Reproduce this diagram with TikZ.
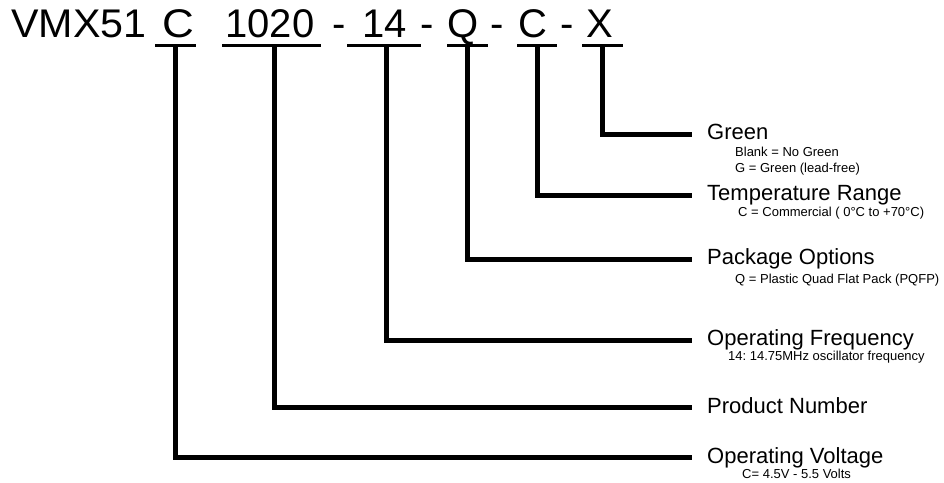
\documentclass[tikz,border=0pt]{standalone}
\usepackage{fontspec}
\setmainfont{Liberation Sans}
\frenchspacing
\begin{document}
\begin{tikzpicture}[x=1pt,y=-1pt,
  ttl/.style={inner sep=0pt,anchor=base,font=\fontsize{40}{40}\selectfont},
  lbl/.style={inner sep=0pt,anchor=base west,font=\fontsize{22}{22}\selectfont},
  sub/.style={inner sep=0pt,anchor=base west,font=\fontsize{13}{13}\selectfont},
  uline/.style={line width=3pt,line cap=butt},
  lead/.style={line width=5pt,line cap=butt,line join=miter}]
\useasboundingbox[fill=white] (0,0) rectangle (944,482);
% title pieces
\node[ttl] (t0) at (79,37) {\scalebox{1.03}[1]{VMX51}};
\node[ttl] (t1) at (178,37) {\scalebox{1.1}[1]{C}};
\node[ttl] (t2) at (270,37) {1020};
\node[ttl] (t3) at (339,37) {-};
\node[ttl] (t4) at (385,37) {14};
\node[ttl] (t5) at (427,37) {-};
\node[ttl] (t6) at (463,37) {Q};
\node[ttl] (t7) at (497,37) {-};
\node[ttl] (t8) at (533,37) {C};
\node[ttl] (t9) at (567,37) {-};
\node[ttl] (t10) at (600,37) {X};
% underlines
\draw[uline] (155,45) -- (196,45);
\draw[uline] (222,45) -- (321,45);
\draw[uline] (347,45) -- (421,45);
\draw[uline] (447,45) -- (488,45);
\draw[uline] (517,45) -- (557,45);
\draw[uline] (582,45) -- (623,45);
% start points
\coordinate (uV) at (175,46);
\coordinate (uP) at (274,46);
\coordinate (uF) at (386,46);
\coordinate (uQ) at (467,46);
\coordinate (uT) at (537,46);
\coordinate (uG) at (602,46);
% end points
\coordinate (eG) at (692,134);
\coordinate (eT) at (692,195);
\coordinate (eQ) at (692,259);
\coordinate (eF) at (692,340);
\coordinate (eP) at (692,407);
\coordinate (eV) at (692,457);
\draw[lead] (uG) |- (eG);
\draw[lead] (uT) |- (eT);
\draw[lead] (uQ) |- (eQ);
\draw[lead] (uF) |- (eF);
\draw[lead] (uP) |- (eP);
\draw[lead] (uV) |- (eV);
% labels
\node[lbl] (lG) at (707,139) {Green};
\node[sub] (sG1) at (735,156) {Blank = No Green};
\node[sub] (sG2) at (735,172) {G = Green (lead-free)};
\node[lbl] (lT) at (707,200) {Temperature Range};
\node[sub] (sT) at (738,216) {C = Commercial ( 0°C to +70°C)};
\node[lbl] (lQ) at (707,264) {Package Options};
\node[sub] (sQ) at (735,283) {Q = Plastic Quad Flat Pack (PQFP)};
\node[lbl] (lF) at (707,345) {Operating Frequency};
\node[sub] (sF) at (728,360) {14: 14.75MHz oscillator frequency};
\node[lbl] (lP) at (707,413) {Product Number};
\node[lbl] (lV) at (707,463) {Operating Voltage};
\node[sub] (sV) at (742,478) {C= 4.5V - 5.5 Volts};
\end{tikzpicture}
\end{document}
